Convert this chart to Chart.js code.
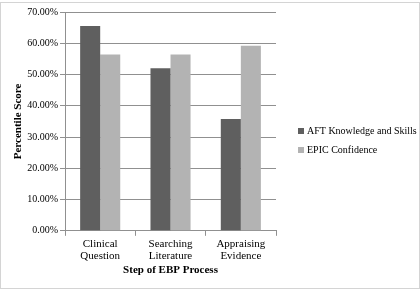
<!DOCTYPE html>
<html>
<head>
<meta charset="utf-8">
<script src="https://cdn.jsdelivr.net/npm/chart.js@4"></script>
<style>
  html, body { margin: 0; padding: 0; background: #fff; }
  #wrap { width: 420px; height: 291px; position: relative; }
</style>
</head>
<body>
<div id="wrap"><canvas id="ebpChart"></canvas></div>
<script>
const categories = [['Clinical', 'Question'], ['Searching', 'Literature'], ['Appraising', 'Evidence']];
const aftScores = [0.655, 0.52, 0.358];
const epicScores = [0.564, 0.564, 0.592];
const seriesNames = ['AFT Knowledge and Skills', 'EPIC Confidence'];

const serif = 'Liberation Serif, Times New Roman, serif';

// white background and thin frame round the whole picture
const framePlugin = {
    id: 'frame',
    beforeDraw(chart) {
        const ctx = chart.ctx;
        ctx.save();
        ctx.fillStyle = '#fff';
        ctx.fillRect(0, 0, chart.width, chart.height);
        ctx.strokeStyle = '#d4d4d4';
        ctx.lineWidth = 1;
        ctx.strokeRect(0.5, 2.5, chart.width - 1, chart.height - 5);
        ctx.restore();
    }
};

// legend drawn to the right of the plot, built-in one gets squeezed
const sideLegend = {
    id: 'sideLegend',
    afterDraw(chart) {
        const ctx = chart.ctx;
        const x = chart.chartArea.right + 22;
        let y = 131;
        ctx.save();
        ctx.font = '10px ' + serif;
        ctx.textBaseline = 'middle';
        chart.data.datasets.forEach(ds => {
            ctx.fillStyle = ds.backgroundColor;
            ctx.fillRect(x, y - 3, 6, 6);
            ctx.fillStyle = '#000';
            ctx.fillText(ds.label, x + 9, y);
            y += 19;
        });
        ctx.restore();
    }
};

new Chart(document.getElementById('ebpChart').getContext('2d'), {
    type: 'bar',
    data: {
        labels: categories,
        datasets: [{
            label: seriesNames[0],
            data: aftScores,
            backgroundColor: '#5f5f5f',
            categoryPercentage: 0.57,
            barPercentage: 1.0
        }, {
            label: seriesNames[1],
            data: epicScores,
            backgroundColor: '#b3b3b3',
            categoryPercentage: 0.57,
            barPercentage: 1.0
        }]
    },
    options: {
        responsive: true,
        maintainAspectRatio: false,
        animation: false,
        layout: { padding: { top: 12, left: 8, right: 144, bottom: 14 } },
        plugins: {
            legend: { display: false },
            tooltip: { enabled: false }
        },
        scales: {
            y: {
                min: 0,
                max: 0.7,
                ticks: {
                    stepSize: 0.1,
                    color: '#000',
                    padding: 2,
                    font: { family: serif, size: 10 },
                    callback: v => (v * 100).toFixed(2) + '%'
                },
                grid: { color: '#909090', tickLength: 5 },
                border: { color: '#909090' },
                title: {
                    display: true,
                    text: 'Percentile Score',
                    color: '#000',
                    padding: { top: 4, bottom: 0 },
                    font: { family: serif, size: 11, weight: 'bold' }
                }
            },
            x: {
                ticks: {
                    color: '#000',
                    padding: 2,
                    font: { family: serif, size: 11, lineHeight: 1.09 }
                },
                grid: { drawOnChartArea: false, color: '#909090', tickLength: 5 },
                border: { color: '#909090' },
                title: {
                    display: true,
                    text: 'Step of EBP Process',
                    color: '#000',
                    padding: { top: 0, bottom: 0 },
                    font: { family: serif, size: 11, weight: 'bold' }
                }
            }
        }
    },
    plugins: [framePlugin, sideLegend]
});
</script>
</body>
</html>
